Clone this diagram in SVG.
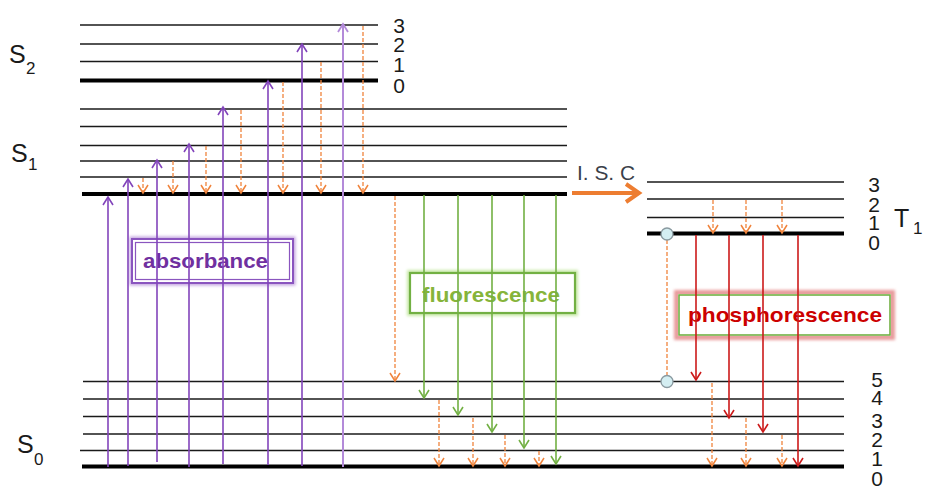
<svg xmlns="http://www.w3.org/2000/svg" width="927" height="487" viewBox="0 0 927 487">
  <style>
    .lv { stroke: #1a1a1a; stroke-width: 1.5; fill: none; }
    .lv0 { stroke: #000; stroke-width: 4; fill: none; }
    .num { font-family: "Liberation Sans", Arial, sans-serif; font-size: 21px; fill: #1a1a1a; text-anchor: middle; }
    .st { font-family: "Liberation Sans", Arial, sans-serif; font-size: 25px; fill: #1a1a1a; }
    .sub { font-family: "Liberation Sans", Arial, sans-serif; font-size: 17px; fill: #1a1a1a; }
    .abs { stroke: #8244bb; stroke-width: 1.6; fill: none; marker-end: url(#hPurple); }
    .absL { stroke: #b38ad9; stroke-width: 2; fill: none; marker-end: url(#hPurpleL); }
    .vr { stroke: #f0843c; stroke-width: 1.3; stroke-dasharray: 4 2; fill: none; marker-end: url(#hOrange); }
    .fl { stroke: #72b043; stroke-width: 1.6; fill: none; marker-end: url(#hGreen); }
    .ph { stroke: #cc1a1a; stroke-width: 1.6; fill: none; marker-end: url(#hRed); }
    .lab { font-family: "Liberation Sans", Arial, sans-serif; font-size: 21px; font-weight: bold; }
  </style>
  <defs>
    <marker id="hPurple" viewBox="0 0 12 12" refX="10" refY="6" markerWidth="12" markerHeight="12" markerUnits="userSpaceOnUse" orient="auto">
      <path d="M2,1 L10,6 L2,11" fill="none" stroke="#8244bb" stroke-width="1.6"/>
    </marker>
    <marker id="hPurpleL" viewBox="0 0 12 12" refX="10" refY="6" markerWidth="12" markerHeight="12" markerUnits="userSpaceOnUse" orient="auto">
      <path d="M2,1 L10,6 L2,11" fill="none" stroke="#b38ad9" stroke-width="1.8"/>
    </marker>
    <marker id="hOrange" viewBox="0 0 12 12" refX="10" refY="6" markerWidth="12" markerHeight="12" markerUnits="userSpaceOnUse" orient="auto">
      <path d="M2,1 L10,6 L2,11" fill="none" stroke="#f0843c" stroke-width="1.5"/>
    </marker>
    <marker id="hGreen" viewBox="0 0 12 12" refX="10" refY="6" markerWidth="12" markerHeight="12" markerUnits="userSpaceOnUse" orient="auto">
      <path d="M2,1 L10,6 L2,11" fill="none" stroke="#72b043" stroke-width="1.6"/>
    </marker>
    <marker id="hRed" viewBox="0 0 12 12" refX="10" refY="6" markerWidth="12" markerHeight="12" markerUnits="userSpaceOnUse" orient="auto">
      <path d="M2,1 L10,6 L2,11" fill="none" stroke="#cc1a1a" stroke-width="1.6"/>
    </marker>
    <filter id="glow" x="-10%" y="-30%" width="120%" height="160%">
      <feGaussianBlur stdDeviation="1.6"/>
    </filter>
  </defs>

  <rect width="927" height="487" fill="#fff"/>

  <!-- S2 manifold -->
  <g id="S2">
    <line class="lv" x1="80" y1="25" x2="378" y2="25"/>
    <line class="lv" x1="80" y1="44" x2="378" y2="44"/>
    <line class="lv" x1="80" y1="61.5" x2="378" y2="61.5"/>
    <line class="lv0" x1="80" y1="80.5" x2="378" y2="80.5"/>
    <text class="num" x="399" y="33">3</text>
    <text class="num" x="399" y="52">2</text>
    <text class="num" x="399" y="72">1</text>
    <text class="num" x="399" y="93">0</text>
    <text class="st" x="9" y="63">S</text>
    <text class="sub" x="26" y="74">2</text>
  </g>

  <!-- S1 manifold -->
  <g id="S1">
    <line class="lv" x1="80" y1="109" x2="567" y2="109"/>
    <line class="lv" x1="80" y1="126.5" x2="567" y2="126.5"/>
    <line class="lv" x1="80" y1="145.5" x2="567" y2="145.5"/>
    <line class="lv" x1="80" y1="161" x2="567" y2="161"/>
    <line class="lv" x1="80" y1="177" x2="567" y2="177"/>
    <line class="lv0" x1="82" y1="194" x2="567" y2="194"/>
    <text class="st" x="11" y="162">S</text>
    <text class="sub" x="28" y="170">1</text>
  </g>

  <!-- T1 manifold -->
  <g id="T1">
    <line class="lv" x1="647" y1="182" x2="844" y2="182"/>
    <line class="lv" x1="647" y1="199" x2="844" y2="199"/>
    <line class="lv" x1="647" y1="217.5" x2="844" y2="217.5"/>
    <line class="lv0" x1="647" y1="233.5" x2="844" y2="233.5"/>
    <text class="num" x="874" y="192">3</text>
    <text class="num" x="874" y="212">2</text>
    <text class="num" x="874" y="230">1</text>
    <text class="num" x="874" y="250">0</text>
    <text class="st" x="894" y="227">T</text>
    <text class="sub" x="913" y="234">1</text>
  </g>

  <!-- S0 manifold -->
  <g id="S0">
    <line class="lv" x1="83" y1="381.5" x2="844" y2="381.5"/>
    <line class="lv" x1="83" y1="399" x2="844" y2="399"/>
    <line class="lv" x1="83" y1="416.5" x2="844" y2="416.5"/>
    <line class="lv" x1="83" y1="434" x2="844" y2="434"/>
    <line class="lv" x1="80" y1="450.5" x2="844" y2="450.5"/>
    <line class="lv0" x1="82" y1="466.5" x2="844" y2="466.5"/>
    <text class="num" x="877" y="387">5</text>
    <text class="num" x="877" y="405">4</text>
    <text class="num" x="877" y="428">3</text>
    <text class="num" x="877" y="447">2</text>
    <text class="num" x="877" y="466">1</text>
    <text class="num" x="877" y="486">0</text>
    <text class="st" x="17" y="453">S</text>
    <text class="sub" x="34" y="465">0</text>
  </g>

  <!-- process labels -->
  <g id="absorbance">
    <rect x="132" y="239" width="161" height="44" fill="none" stroke="#c4a6e0" stroke-width="5" filter="url(#glow)"/>
    <rect x="132" y="239" width="161" height="44" fill="#fff" stroke="#8a55bf" stroke-width="2"/>
    <rect x="135.5" y="242.5" width="154" height="37" fill="none" stroke="#8a55bf" stroke-width="1.2"/>
    <text class="lab" x="143" y="268" fill="#7030a0" textLength="125" lengthAdjust="spacingAndGlyphs">absorbance</text>
  </g>
  <g id="fluorescence">
    <rect x="410" y="273" width="165" height="40" fill="none" stroke="#c8e8a8" stroke-width="6" filter="url(#glow)"/>
    <rect x="410" y="273" width="165" height="40" fill="#fff" stroke="#72b043" stroke-width="2.2"/>
    <text class="lab" x="422" y="302" fill="#86b43a" textLength="138" lengthAdjust="spacingAndGlyphs">fluorescence</text>
  </g>
  <g id="phosphorescence">
    <rect x="677" y="293" width="215" height="44" fill="none" stroke="#e89a9a" stroke-width="6" filter="url(#glow)"/>
    <rect x="677" y="293" width="215" height="44" fill="#fff" stroke="#e8a0a0" stroke-width="2"/>
    <rect x="679" y="295" width="211" height="40" fill="none" stroke="#72b043" stroke-width="1.6"/>
    <text class="lab" x="688" y="322" fill="#cc0000" textLength="194" lengthAdjust="spacingAndGlyphs">phosphorescence</text>
  </g>

  <!-- intersystem crossing -->
  <g id="isc">
    <text x="577" y="180" font-family="Liberation Sans, Arial, sans-serif" font-size="20" fill="#3a3f4a" textLength="58" lengthAdjust="spacingAndGlyphs">I. S. C</text>
  </g>

  <!-- transitions -->
  <g id="connectors">
    <!-- absorption -->
    <line class="abs" x1="108" y1="467" x2="108" y2="197"/>
    <line class="abs" x1="128" y1="466" x2="128" y2="179"/>
    <line class="abs" x1="157" y1="462" x2="157" y2="160"/>
    <line class="abs" x1="189" y1="467" x2="189" y2="144"/>
    <line class="abs" x1="223" y1="464" x2="223" y2="107"/>
    <line class="abs" x1="268" y1="465" x2="268" y2="81"/>
    <line class="abs" x1="302" y1="466" x2="302" y2="44"/>
    <line class="absL" x1="343" y1="467" x2="343" y2="24"/>

    <!-- vibrational relaxation in S1 / S2 -->
    <line class="vr" x1="143" y1="178" x2="143" y2="193"/>
    <line class="vr" x1="173" y1="161" x2="173" y2="193"/>
    <line class="vr" x1="206" y1="146" x2="206" y2="193"/>
    <line class="vr" x1="241" y1="110" x2="241" y2="193"/>
    <line class="vr" x1="283" y1="82" x2="283" y2="193"/>
    <line class="vr" x1="321" y1="62" x2="321" y2="193"/>
    <line class="vr" x1="363" y1="26" x2="363" y2="193"/>

    <!-- fluorescence -->
    <line class="vr" x1="395" y1="196" x2="395" y2="381"/>
    <line class="fl" x1="424" y1="195" x2="424" y2="398"/>
    <line class="fl" x1="458" y1="195" x2="458" y2="415"/>
    <line class="fl" x1="492" y1="195" x2="492" y2="432"/>
    <line class="fl" x1="524" y1="195" x2="524" y2="448"/>
    <line class="fl" x1="556" y1="195" x2="556" y2="464"/>
    <line class="vr" x1="439" y1="400" x2="439" y2="466"/>
    <line class="vr" x1="473" y1="418" x2="473" y2="466"/>
    <line class="vr" x1="505" y1="435" x2="505" y2="466"/>
    <line class="vr" x1="539" y1="451" x2="539" y2="466"/>

    <!-- ISC arrow -->
    <path d="M572,193 L637,193 M626,184 L639,193 L626,202" fill="none" stroke="#ed7d31" stroke-width="4" stroke-linejoin="miter"/>

    <!-- relaxation in T1 -->
    <line class="vr" x1="713" y1="200" x2="713" y2="233"/>
    <line class="vr" x1="746" y1="200" x2="746" y2="233"/>
    <line class="vr" x1="782" y1="200" x2="782" y2="233"/>

    <!-- phosphorescence -->
    <line class="ph" x1="696" y1="235" x2="696" y2="380"/>
    <line class="ph" x1="729" y1="235" x2="729" y2="418"/>
    <line class="ph" x1="763" y1="235" x2="763" y2="432"/>
    <line class="ph" x1="798" y1="235" x2="798" y2="466"/>
    <line class="vr" x1="712" y1="383" x2="712" y2="466"/>
    <line class="vr" x1="746" y1="418" x2="746" y2="466"/>
    <line class="vr" x1="782" y1="435" x2="782" y2="466"/>

    <!-- T1 to S0 non-radiative path -->
    <line x1="667" y1="240" x2="667" y2="375" stroke="#f0843c" stroke-width="1.3" stroke-dasharray="4 2"/>
    <circle cx="667" cy="234" r="6" fill="#d4eef2" stroke="#8a9aa0" stroke-width="1.3"/>
    <circle cx="667" cy="381.5" r="6" fill="#d4eef2" stroke="#8a9aa0" stroke-width="1.3"/>
  </g>
</svg>
